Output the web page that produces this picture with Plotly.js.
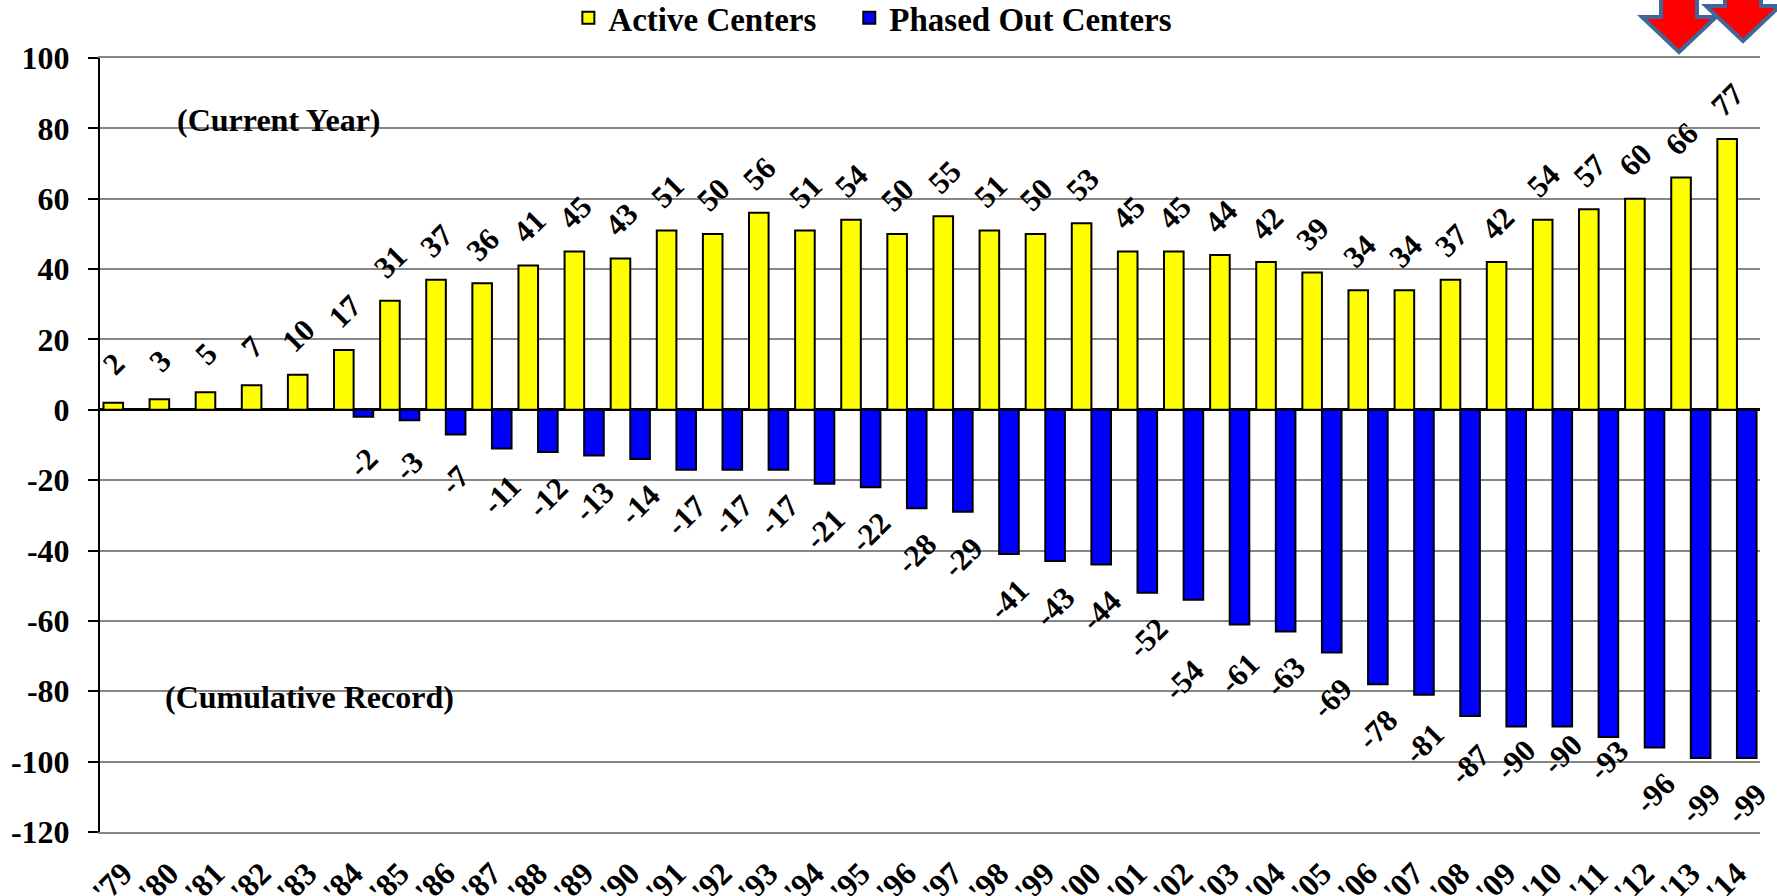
<!DOCTYPE html>
<html><head><meta charset="utf-8">
<script src="https://cdn.plot.ly/plotly-3.0.1.min.js"></script>
<style>html,body{margin:0;padding:0;background:#fff;overflow:hidden}</style></head>
<body><div id="c" style="width:1777px;height:896px"></div>
<script>
const years = ["'79","'80","'81","'82","'83","'84","'85","'86","'87","'88","'89","'90","'91","'92","'93","'94","'95","'96","'97","'98","'99","'00","'01","'02","'03","'04","'05","'06","'07","'08","'09","'10","'11","'12","'13","'14"];
const active = [2,3,5,7,10,17,31,37,36,41,45,43,51,50,56,51,54,50,55,51,50,53,45,45,44,42,39,34,34,37,42,54,57,60,66,77];
const phased = [null,null,null,null,null,-2,-3,-7,-11,-12,-13,-14,-17,-17,-17,-21,-22,-28,-29,-41,-43,-44,-52,-54,-61,-63,-69,-78,-81,-87,-90,-90,-93,-96,-99,-99];
// hand-placed labels in the original: pixel nudges [dx, dy(up)] for a few phased-out labels
const labelNudges = {"'02":[-10,-35],"'03":[0,-4],"'07":[0,-3],"'08":[0,-3],"'09":[0,12],"'10":[0,17],"'11":[0,22]};
const W=1777,H=896,L=99.5,R=1760,T=58,B=832;
const serif='"Liberation Serif","Times New Roman",serif';
const px=x=>(x-L)/(R-L), py=y=>(B-y)/(B-T);
function arrow(cx,tip,headTop,hw,sw){
  const P=(x,y)=>px(x)+','+py(y);
  return {type:'path',xref:'paper',yref:'paper',layer:'above',fillcolor:'#ff0000',line:{color:'#41669a',width:4},
    path:'M'+P(cx-sw,-20)+' L'+P(cx-sw,headTop)+' L'+P(cx-hw,headTop)+' L'+P(cx,tip)+' L'+P(cx+hw,headTop)+' L'+P(cx+sw,headTop)+' L'+P(cx+sw,-20)+' Z'};
}
const anns=[];
years.forEach((y,i)=>{
  anns.push({x:y,y:active[i],xref:'x',yref:'y',text:String(active[i]),showarrow:false,textangle:-45,xshift:-9,yshift:39,
    font:{family:serif,size:31,color:'#000',weight:700}});
  if(phased[i]!==null){
    const n=labelNudges[y]||[0,0];
    anns.push({x:y,y:phased[i],xref:'x',yref:'y',text:String(phased[i]),showarrow:false,textangle:-45,xshift:9.5+n[0],yshift:-45.5+n[1],
      font:{family:serif,size:31,color:'#000',weight:700}});
  }
});
anns.push({xref:'paper',yref:'paper',x:px(278),y:py(120),xanchor:'center',yanchor:'middle',text:'(Current Year)',showarrow:false,font:{family:serif,size:32,color:'#000',weight:700}});
anns.push({xref:'paper',yref:'paper',x:px(309),y:py(697),xanchor:'center',yanchor:'middle',text:'(Cumulative Record)',showarrow:false,font:{family:serif,size:32,color:'#000',weight:700}});
const data=[
 {type:'bar',name:'Active Centers',x:years,y:active,legend:'legend',marker:{color:'#ffff00',line:{color:'#000',width:2}},cliponaxis:false},
 {type:'bar',name:'Phased Out Centers',x:years,y:phased,legend:'legend2',marker:{color:'#0000ff',line:{color:'#000',width:2}},cliponaxis:false}
];
const legendBase={orientation:'h',xanchor:'left',y:0.98,yanchor:'middle',yref:'container',itemwidth:30,
   font:{family:serif,size:33,color:'#000',weight:700},bgcolor:'rgba(0,0,0,0)',itemclick:false,itemdoubleclick:false};
const layout={
 width:W,height:H,margin:{l:L,r:W-R,t:T,b:H-B,pad:0},paper_bgcolor:'#fff',plot_bgcolor:'#fff',
 barmode:'group',bargap:0.15,bargroupgap:0,
 showlegend:true,
 legend:Object.assign({},legendBase,{x:px(568)}),
 legend2:Object.assign({},legendBase,{x:px(849)}),
 xaxis:{type:'category',categoryorder:'array',categoryarray:years,range:[-0.5,35.5],tickangle:-45,showgrid:false,showline:true,mirror:true,linecolor:'#868686',linewidth:2,ticks:'',zeroline:false,automargin:false,ticklabelstandoff:8,
   tickfont:{family:serif,size:32,color:'#000',weight:700}},
 yaxis:{range:[-120,100],tickvals:[-120,-100,-80,-60,-40,-20,0,20,40,60,80,100],ticktext:['-120','-100','-80','-60','-40','-20','0','20','40','60','80','100'],
   showgrid:true,gridcolor:'#868686',gridwidth:2,zeroline:true,zerolinecolor:'#000',zerolinewidth:3,automargin:false,ticklabelstandoff:12,
   showline:true,linecolor:'#000',linewidth:2,ticks:'outside',ticklen:10,tickwidth:2,tickcolor:'#000',
   tickfont:{family:serif,size:32,color:'#000',weight:700}},
 annotations:anns,
 shapes:[arrow(1679,52,17,37,18),arrow(1743,41,6,37,18)]
};
Plotly.newPlot('c',data,layout,{displayModeBar:false,staticPlot:true});
</script></body></html>
